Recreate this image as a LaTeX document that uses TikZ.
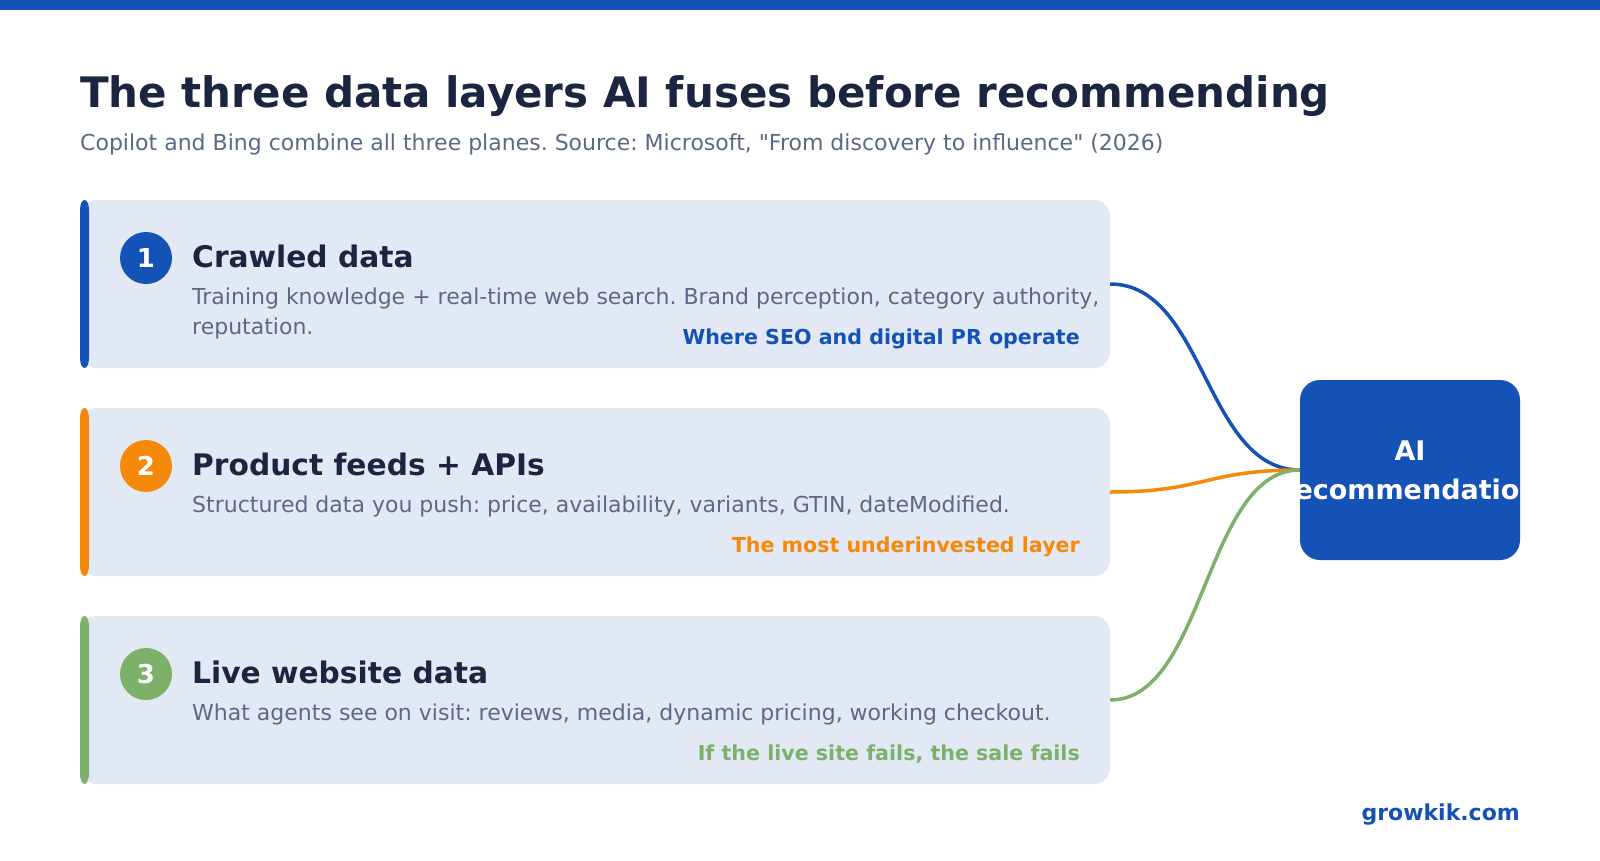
\documentclass[tikz,border=0pt]{standalone}
\usepackage{fontspec}
\setmainfont{DejaVu Sans}[Ligatures=TeXOff]
\usepackage{tikz}
\usetikzlibrary{positioning,calc}
\definecolor{brandblue}{HTML}{1452B5}
\definecolor{feedorange}{HTML}{F5890A}
\definecolor{livegreen}{HTML}{7DB068}
\definecolor{cardbg}{HTML}{E2E9F4}
\definecolor{ink}{HTML}{1A2540}
\definecolor{slate}{HTML}{5A6A85}
\tikzset{
  card/.style={rectangle, fill=cardbg, rounded corners=16bp, minimum width=1030bp, minimum height=168bp, inner sep=0pt},
  badge/.style={circle, minimum size=52bp, inner sep=0pt, text=white, font=\fontsize{26bp}{30bp}\selectfont\bfseries},
  heading/.style={inner sep=0pt, anchor=base west, text=ink, font=\fontsize{29.7bp}{36bp}\selectfont\bfseries},
  body/.style={inner sep=0pt, anchor=base west, align=left, text=slate, font=\fontsize{22bp}{30bp}\selectfont},
  note/.style={inner sep=0pt, anchor=base east, font=\fontsize{20.6bp}{24bp}\selectfont\bfseries},
  hub/.style={rectangle, fill=brandblue, rounded corners=20bp, minimum width=220bp, minimum height=180bp, inner sep=0pt},
  hubtext/.style={inner sep=0pt, align=center, text=white, font=\fontsize{27bp}{39bp}\selectfont\bfseries},
  link/.style={line width=3.5bp}
}
\frenchspacing
\begin{document}
\begin{tikzpicture}[x=1bp, y=-1bp]

    \useasboundingbox (0,0) rectangle (1600,860);
    \fill[white] (0,0) rectangle (1600,860);
    \fill[brandblue] (0,0) rectangle (1600,10);

    % === Header ===
    \node[heading, font=\fontsize{42bp}{50bp}\selectfont\bfseries] (title) at (80,107) {The three data layers AI fuses before recommending};
    \node[body] (subtitle) at (80,150) {Copilot and Bing combine all three planes. Source: Microsoft, "From discovery to influence" (2026)};

    % === Card 1: crawled data ===
    \node[card] (card1) at (595,284) {};
    \fill[brandblue] (80,210) arc[start angle=180, end angle=360, x radius=4.5, y radius=10] -- (89,358) arc[start angle=0, end angle=180, x radius=4.5, y radius=10] -- cycle;
    \node[badge, fill=brandblue] (badge1) at (146,258) {1};
    \node[heading] (head1) at (192,267) {Crawled data};
    \node[body] (desc1) at (192,334) {Training knowledge + real-time web search. Brand perception, category authority,\\reputation.};
    \node[note, text=brandblue] (note1) at (1080,344) {Where SEO and digital PR operate};

    % === Card 2: product feeds ===
    \node[card] (card2) at (595,492) {};
    \fill[feedorange] (80,418) arc[start angle=180, end angle=360, x radius=4.5, y radius=10] -- (89,566) arc[start angle=0, end angle=180, x radius=4.5, y radius=10] -- cycle;
    \node[badge, fill=feedorange] (badge2) at (146,466) {2};
    \node[heading] (head2) at (192,475) {Product feeds + APIs};
    \node[body] (desc2) at (192,512) {Structured data you push: price, availability, variants, GTIN, dateModified.};
    \node[note, text=feedorange] (note2) at (1080,552) {The most underinvested layer};

    % === Card 3: live website ===
    \node[card] (card3) at (595,700) {};
    \fill[livegreen] (80,626) arc[start angle=180, end angle=360, x radius=4.5, y radius=10] -- (89,774) arc[start angle=0, end angle=180, x radius=4.5, y radius=10] -- cycle;
    \node[badge, fill=livegreen] (badge3) at (146,674) {3};
    \node[heading] (head3) at (192,683) {Live website data};
    \node[body] (desc3) at (192,720) {What agents see on visit: reviews, media, dynamic pricing, working checkout.};
    \node[note, text=livegreen] (note3) at (1080,760) {If the live site fails, the sale fails};

    % === Hub and links ===
    \node[hub] (hub) at (1410,470) {};
    \draw[link, brandblue] (card1.east) .. controls +(95,0) and +(-95,0) .. (hub.west);
    \draw[link, feedorange] (card2.east) .. controls +(95,0) and +(-95,0) .. (hub.west);
    \draw[link, livegreen] (card3.east) .. controls +(95,0) and +(-95,0) .. (hub.west);
    \begin{scope}
    \clip[rounded corners=20bp] (hub.south west) rectangle (hub.north east);
    \node[hubtext] (hublabel) at (hub.center) {AI\\recommendation};
    \end{scope}

    % Footer
    \node[note, text=brandblue, font=\fontsize{22bp}{26bp}\selectfont\bfseries] (site) at (1520,820) {growkik.com};

\end{tikzpicture}
\end{document}
